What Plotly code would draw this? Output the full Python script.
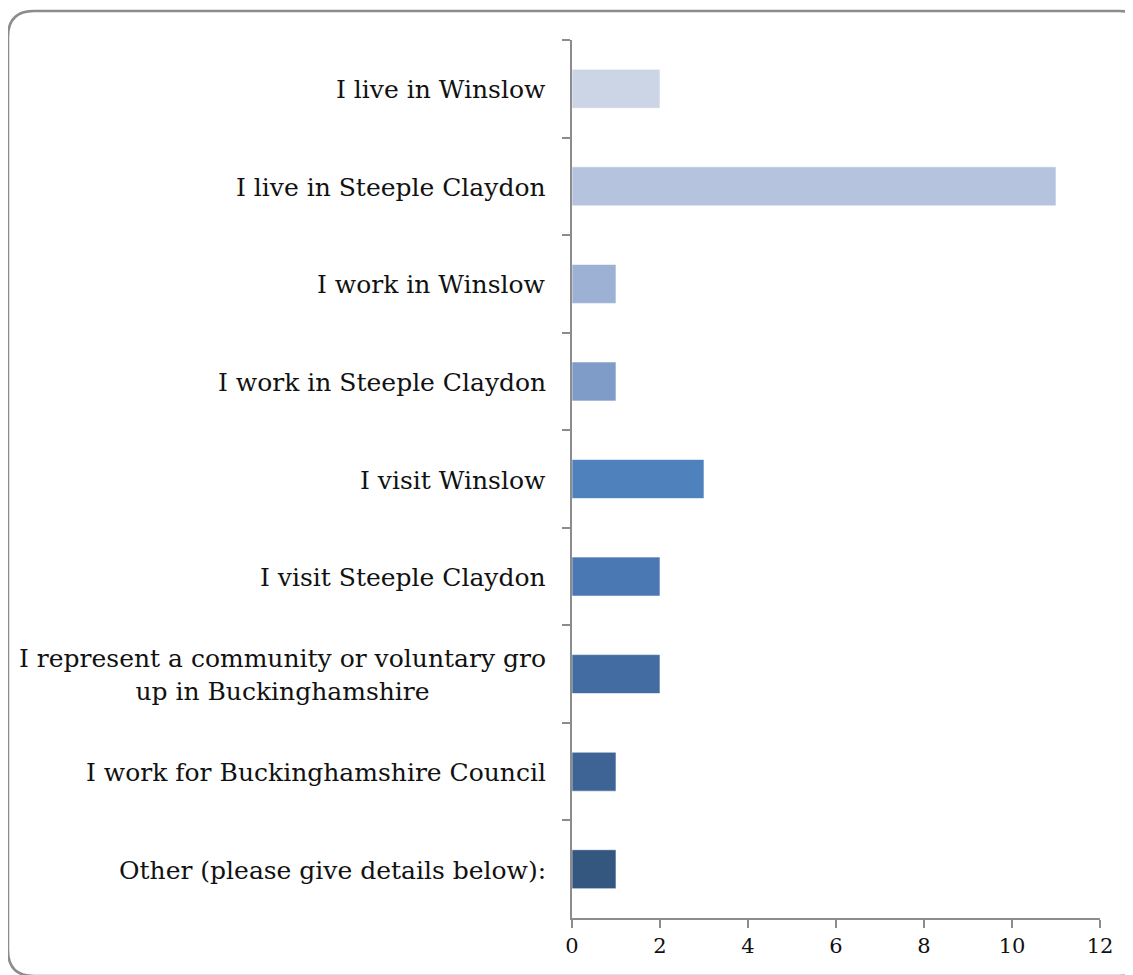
import plotly.graph_objects as go

categories = [
    "I live in Winslow",
    "I live in Steeple Claydon",
    "I work in Winslow",
    "I work in Steeple Claydon",
    "I visit Winslow",
    "I visit Steeple Claydon",
    "I represent a community or voluntary gro<br>up in Buckinghamshire",
    "I work for Buckinghamshire Council",
    "Other (please give details below):",
]
values = [2, 11, 1, 1, 3, 2, 2, 1, 1]
bar_colors = ["#ccd5e6", "#b5c3de", "#9db1d4", "#7f9cc8", "#4f81bd",
              "#4a78b2", "#436da2", "#3d6494", "#345780"]
x_ticks = [0, 2, 4, 6, 8, 10, 12]

W, H = 1133, 975
L, R, T, B = 564, 41, 32, 65
pw, ph = W - L - R, H - T - B

FONT = "DejaVu Serif"

fig = go.Figure(go.Bar(
    x=values, y=categories, orientation="h",
    marker=dict(color=bar_colors, line=dict(color="rgba(255,255,255,0.6)", width=1)),
    width=0.4,
))

for c in categories:
    fig.add_annotation(
        x=0, xref="paper", y=c, yref="y", xanchor="right", yanchor="middle",
        xshift=-24, yshift=-1, text=c, showarrow=False, align="center",
        font=dict(family=FONT, size=25, color="#111111"),
    )

# rounded border (pixel -> paper)
def px(xp):
    return (xp - L) / pw

def py(yp):
    return (H - B - yp) / ph

bl, bt, br, bb, r = 0, 3, 1137, 968, 26
path = (
    f"M {px(bl)},{py(bt + r)} Q {px(bl)},{py(bt)} {px(bl + r)},{py(bt)} "
    f"L {px(br - r)},{py(bt)} Q {px(br)},{py(bt)} {px(br)},{py(bt + r)} "
    f"L {px(br)},{py(bb - r)} Q {px(br)},{py(bb)} {px(br - r)},{py(bb)} "
    f"L {px(bl + r)},{py(bb)} Q {px(bl)},{py(bb)} {px(bl)},{py(bb - r)} Z"
)
fig.add_shape(type="path", path=path, xref="paper", yref="paper",
              line=dict(color="#8c8c8c", width=2.5), layer="below")

fig.update_layout(
    width=W, height=H,
    margin=dict(l=L, r=R, t=T, b=B),
    paper_bgcolor="white", plot_bgcolor="white",
    showlegend=False,
    xaxis=dict(
        range=[0, 12], tickvals=x_ticks, showgrid=False, zeroline=False,
        showline=True, linecolor="#8c8c8c", linewidth=2,
        ticks="outside", ticklen=8, tickwidth=2, tickcolor="#8c8c8c",
        tickfont=dict(family=FONT, size=21, color="#111111"),
    ),
    yaxis=dict(
        autorange="reversed", showgrid=False, zeroline=False,
        showline=True, linecolor="#8c8c8c", linewidth=2,
        ticks="outside", ticklen=8, tickwidth=2, tickcolor="#8c8c8c",
        tickson="boundaries", showticklabels=False,
    ),
)

fig.write_html("out.html")
